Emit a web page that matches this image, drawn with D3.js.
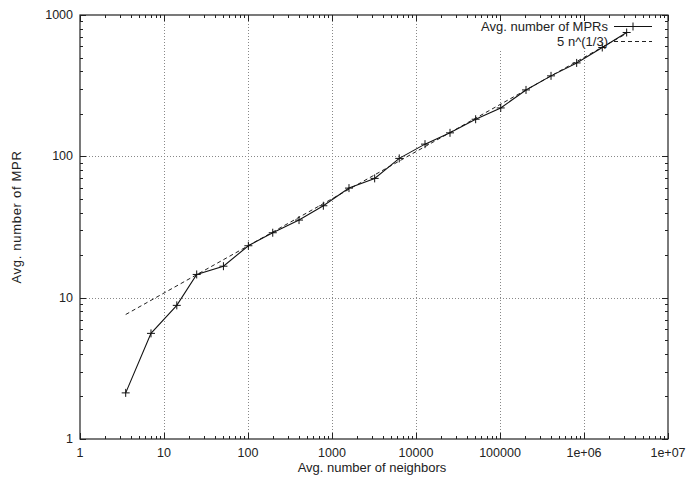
<!DOCTYPE html>
<html>
<head>
<meta charset="utf-8">
<script src="https://cdn.jsdelivr.net/npm/d3@7"></script>
<style>
  body { margin: 0; background: #fff; }
  svg text { font-family: "Liberation Sans", Arial, sans-serif; fill: #222; }
</style>
</head>
<body>
<svg id="chart"></svg>
<script>
// measured data: average number of neighbors vs average number of MPRs
var neighbors = [3.5, 7, 14.2, 24.5, 51, 101, 197, 405, 789, 1593, 3220, 6320, 12800, 25400, 51300, 102000, 204000, 405000, 818000, 1650000, 3220000];
var mprs = [2.12, 5.59, 8.82, 14.6, 16.7, 23.3, 28.8, 35.4, 44.7, 59.6, 69.8, 96.7, 122, 146.6, 183, 220, 295, 371, 458, 589, 752];

// reference curve 5 n^(1/3), straight in log-log, so endpoints only
var fitX = [3.5, 3220000];
var fitY = [7.6, 740];

var xTicks = [1, 10, 100, 1000, 10000, 100000, 1000000, 10000000];
var xTickLabels = ['1', '10', '100', '1000', '10000', '100000', '1e+06', '1e+07'];
var yTicks = [1, 10, 100, 1000];
var yTickLabels = ['1', '10', '100', '1000'];
var seriesNames = ['Avg. number of MPRs', '5 n^(1/3)'];

var w = 689, h = 479;
var padL = 80, padR = 668, padT = 15, padB = 439;

var svg = d3.select('#chart').attr('width', w).attr('height', h);

var x = d3.scaleLog().domain([1, 1e7]).range([padL, padR]);
var y = d3.scaleLog().domain([1, 1000]).range([padB, padT]);

// minor tick values 2..9 in every decade
var xMinor = [];
xTicks.slice(0, -1).forEach(function (d) {
    for (var k = 2; k < 10; k++) xMinor.push(d * k);
});
var yMinor = [];
yTicks.slice(0, -1).forEach(function (d) {
    for (var k = 2; k < 10; k++) yMinor.push(d * k);
});

// grid
var grid = svg.append('g').attr('stroke', '#888').attr('stroke-width', 1).attr('stroke-dasharray', '1,2');
grid.selectAll('.gx').data(xTicks.slice(1, -1)).enter().append('line')
    .attr('x1', function (d) { return Math.round(x(d)) + 0.5; })
    .attr('x2', function (d) { return Math.round(x(d)) + 0.5; })
    .attr('y1', padT).attr('y2', padB);
grid.selectAll('.gy').data(yTicks.slice(1, -1)).enter().append('line')
    .attr('y1', function (d) { return Math.round(y(d)) + 0.5; })
    .attr('y2', function (d) { return Math.round(y(d)) + 0.5; })
    .attr('x1', padL).attr('x2', padR);

// opaque key box hides the grid behind it
svg.append('rect').attr('x', 470).attr('y', padT + 2).attr('width', 190).attr('height', 32).attr('fill', '#fff');

// ticks, mirrored on all four sides
var ticks = svg.append('g').attr('stroke', '#222').attr('stroke-width', 1);
function tickX(vals, len) {
    vals.forEach(function (d) {
        var px = Math.round(x(d)) + 0.5;
        ticks.append('line').attr('x1', px).attr('x2', px).attr('y1', padB).attr('y2', padB - len);
        ticks.append('line').attr('x1', px).attr('x2', px).attr('y1', padT).attr('y2', padT + len);
    });
}
function tickY(vals, len) {
    vals.forEach(function (d) {
        var py = Math.round(y(d)) + 0.5;
        ticks.append('line').attr('y1', py).attr('y2', py).attr('x1', padL).attr('x2', padL + len);
        ticks.append('line').attr('y1', py).attr('y2', py).attr('x1', padR).attr('x2', padR - len);
    });
}
tickX(xTicks, 6);
tickX(xMinor, 3);
tickY(yTicks, 6);
tickY(yMinor, 3);

// frame
svg.append('rect').attr('x', padL).attr('y', padT).attr('width', padR - padL).attr('height', padB - padT)
    .attr('fill', 'none').attr('stroke', '#222').attr('stroke-width', 1.2);

// tick labels
svg.selectAll('.xl').data(xTicks).enter().append('text')
    .attr('x', function (d) { return x(d); })
    .attr('y', padB + 18)
    .attr('text-anchor', 'middle').attr('font-size', 12.5)
    .text(function (d, i) { return xTickLabels[i]; });
svg.selectAll('.yl').data(yTicks).enter().append('text')
    .attr('x', padL - 7)
    .attr('y', function (d) { return y(d) + 4; })
    .attr('text-anchor', 'end').attr('font-size', 12.5)
    .text(function (d, i) { return yTickLabels[i]; });

// axis titles
svg.append('text').attr('x', 372).attr('y', 472)
    .attr('text-anchor', 'middle').attr('font-size', 13).text('Avg. number of neighbors');
svg.append('text').attr('transform', 'translate(21,' + 217 + ') rotate(-90)')
    .attr('text-anchor', 'middle').attr('font-size', 13).attr('letter-spacing', 0.7)
    .text('Avg. number of MPR');

// fit curve
var line = d3.line().x(function (d) { return x(d[0]); }).y(function (d) { return y(d[1]); });
svg.append('path').datum(d3.zip(fitX, fitY)).attr('d', line)
    .attr('fill', 'none').attr('stroke', '#222').attr('stroke-width', 1).attr('stroke-dasharray', '4,3');

// measured series
var pts = d3.zip(neighbors, mprs);
svg.append('path').datum(pts).attr('d', line)
    .attr('fill', 'none').attr('stroke', '#111').attr('stroke-width', 1.1);
svg.selectAll('.pt').data(pts).enter().append('path')
    .attr('d', 'M-4,0H4M0,-4V4')
    .attr('transform', function (d) { return 'translate(' + x(d[0]) + ',' + y(d[1]) + ')'; })
    .attr('stroke', '#111').attr('stroke-width', 1).attr('fill', 'none');

// key
var key = svg.append('g');
var keyRows = [26, 41];
key.selectAll('text').data(seriesNames).enter().append('text')
    .attr('x', 608).attr('y', function (d, i) { return keyRows[i] + 4.5; })
    .attr('text-anchor', 'end').attr('font-size', 13)
    .text(function (d) { return d; });
key.append('line').attr('x1', 614).attr('x2', 652).attr('y1', keyRows[0] + 0.5).attr('y2', keyRows[0] + 0.5)
    .attr('stroke', '#111').attr('stroke-width', 1.1);
key.append('path').attr('d', 'M-4,0H4M0,-4V4').attr('transform', 'translate(633,' + (keyRows[0] + 0.5) + ')')
    .attr('stroke', '#111').attr('fill', 'none');
key.append('line').attr('x1', 614).attr('x2', 652).attr('y1', keyRows[1] + 0.5).attr('y2', keyRows[1] + 0.5)
    .attr('stroke', '#222').attr('stroke-dasharray', '4,3');
</script>
</body>
</html>
